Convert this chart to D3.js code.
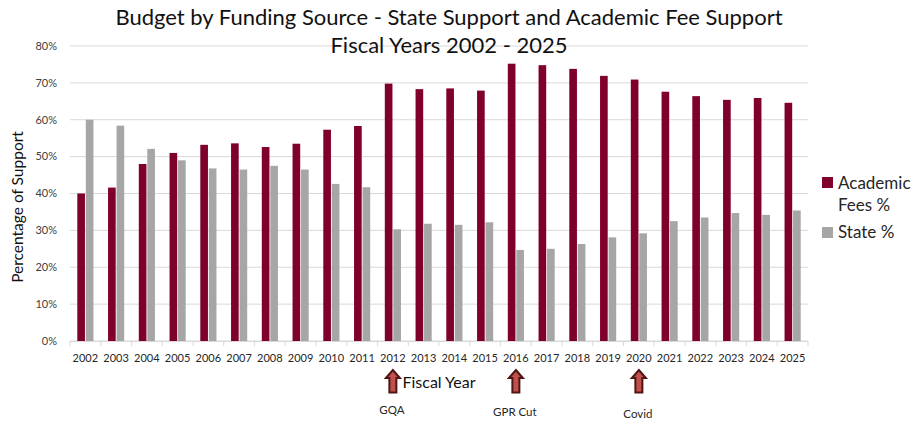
<!DOCTYPE html>
<html>
<head>
<meta charset="utf-8">
<script src="https://cdn.jsdelivr.net/npm/d3@7"></script>
<style>
  body { margin: 0; background: #fff; }
  svg { font-family: Lato, "Open Sans", sans-serif; }
</style>
</head>
<body>
<div class="chart"></div>
<script>
// data
const years = ["2002","2003","2004","2005","2006","2007","2008","2009","2010","2011","2012","2013",
               "2014","2015","2016","2017","2018","2019","2020","2021","2022","2023","2024","2025"];
const academicFees = [40.0,41.6,48.0,51.0,53.2,53.6,52.6,53.5,57.3,58.3,69.8,68.3,
                      68.5,67.9,75.2,74.8,73.8,71.9,70.9,67.6,66.4,65.4,65.9,64.6];
const statePct = [60.0,58.4,52.1,49.0,46.8,46.5,47.5,46.5,42.6,41.7,30.3,31.8,
                  31.5,32.2,24.7,25.0,26.3,28.1,29.2,32.5,33.5,34.7,34.2,35.4];
const yTicks = [0,10,20,30,40,50,60,70,80];
const events = [{year:"2012", label:"GQA"}, {year:"2016", label:"GPR Cut"}, {year:"2020", label:"Covid"}];

const width = 915, height = 425;
const margin = {top: 46, right: 107, bottom: 84, left: 70};
const colors = ["#7f0029", "#a6a6a6"];

const svg = d3.select(".chart").append("svg")
  .attr("width", width).attr("height", height);

const x = d3.scaleBand().domain(years).range([margin.left, width - margin.right]);
const x1 = d3.scaleBand().domain([0,1]).range([7.3, x.bandwidth() - 7.3]).paddingInner(0.1);
const y = d3.scaleLinear().domain([0, 80]).range([height - margin.bottom, margin.top]);

// gridlines
svg.append("g").selectAll("line").data(yTicks).join("line")
  .attr("x1", margin.left).attr("x2", width - margin.right)
  .attr("y1", d => y(d)).attr("y2", d => y(d))
  .attr("stroke", "#d9d9d9").attr("stroke-width", 1);

// y labels
svg.append("g").selectAll("text").data(yTicks).join("text")
  .attr("x", 57).attr("y", d => y(d)).attr("dy", "0.35em")
  .attr("text-anchor", "end").attr("font-size", 11).attr("fill", "#404040")
  .text(d => d + "%");

// bars
const rows = years.map((yr, i) => ({year: yr, vals: [academicFees[i], statePct[i]]}));
const grp = svg.append("g").selectAll("g").data(rows).join("g")
  .attr("transform", d => `translate(${x(d.year)},0)`);
grp.selectAll("rect").data(d => d.vals).join("rect")
  .attr("x", (d, j) => x1(j))
  .attr("width", x1.bandwidth())
  .attr("y", d => y(d))
  .attr("height", d => y(0) - y(d))
  .attr("fill", (d, j) => colors[j]);

// x axis
const baseY = y(0);
svg.append("line").attr("x1", margin.left).attr("x2", width - margin.right)
  .attr("y1", baseY + 0.5).attr("y2", baseY + 0.5).attr("stroke", "#d9d9d9");
const edges = years.map(d => x(d)).concat([x(years[years.length-1]) + x.bandwidth()]);
svg.append("g").selectAll("line").data(edges).join("line")
  .attr("x1", d => d).attr("x2", d => d)
  .attr("y1", baseY).attr("y2", baseY + 5)
  .attr("stroke", "#d9d9d9");
svg.append("g").selectAll("text").data(years).join("text")
  .attr("x", d => x(d) + x.bandwidth()/2).attr("y", 362)
  .attr("text-anchor", "middle").attr("font-size", 11).attr("fill", "#262626")
  .text(d => d);

// titles
svg.append("text").attr("x", 449).attr("y", 25).attr("text-anchor", "middle")
  .attr("font-size", 22).attr("fill", "#111")
  .text("Budget by Funding Source - State Support and Academic Fee Support");
svg.append("text").attr("x", 449).attr("y", 53).attr("text-anchor", "middle")
  .attr("font-size", 22).attr("fill", "#111")
  .text("Fiscal Years 2002 - 2025");

svg.append("text").attr("transform", "translate(23,207) rotate(-90)")
  .attr("text-anchor", "middle").attr("font-size", 15.5).attr("fill", "#111")
  .text("Percentage of Support");

svg.append("text").attr("x", 439).attr("y", 388).attr("text-anchor", "middle")
  .attr("font-size", 16).attr("fill", "#111").text("Fiscal Year");

// event arrows
const arrowPath = "M0,0 L7,8 L3.5,8 L3.5,22.5 L-3.5,22.5 L-3.5,8 L-7,8 Z";
const ev = svg.append("g").selectAll("g").data(events).join("g")
  .attr("transform", d => `translate(${x(d.year) + x.bandwidth()/2},370)`);
ev.append("path").attr("d", arrowPath)
  .attr("fill", "#c0504d").attr("stroke", "#4e1513").attr("stroke-width", 2)
  .attr("stroke-linejoin", "miter");
ev.append("text").attr("x", -1).attr("y", (d, i) => 44 + i * 2)
  .attr("text-anchor", "middle").attr("font-size", 11.5).attr("fill", "#262626")
  .text(d => d.label);

// legend
const lg = svg.append("g");
lg.append("rect").attr("x", 822).attr("y", 177).attr("width", 11).attr("height", 11).attr("fill", colors[0]);
lg.append("text").attr("x", 838).attr("y", 189).attr("font-size", 17).attr("fill", "#262626").text("Academic");
lg.append("text").attr("x", 838).attr("y", 210.5).attr("font-size", 17).attr("fill", "#262626").text("Fees %");
lg.append("rect").attr("x", 822).attr("y", 227).attr("width", 11).attr("height", 11).attr("fill", colors[1]);
lg.append("text").attr("x", 838).attr("y", 237.5).attr("font-size", 17).attr("fill", "#262626").text("State %");
</script>
</body>
</html>
